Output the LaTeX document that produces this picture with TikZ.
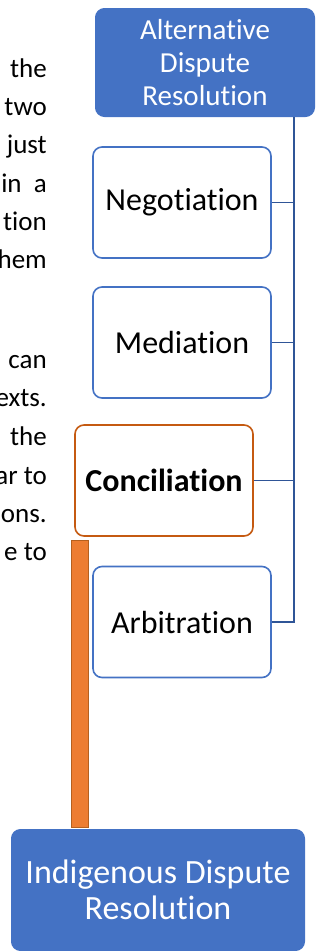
\documentclass[tikz,border=0pt]{standalone}
\usepackage{fontspec}
\setmainfont{Carlito}[RawFeature={-liga;-clig;-calt;-dlig;-rlig}]
\usepackage{tikz}
\usetikzlibrary{calc}
\usepackage{xcolor}
\definecolor{adrblue}{HTML}{4472C4}
\definecolor{linkblue}{HTML}{2F5597}
\definecolor{concorange}{HTML}{C55A11}
\definecolor{barorange}{HTML}{ED7D31}
\definecolor{barborder}{HTML}{B5601E}

\begin{document}
\begin{tikzpicture}[x=1pt,y=-1pt]
  \tikzset{rootbox/.style={rectangle,rounded corners=9pt,fill=adrblue,draw=adrblue,line width=1pt,text=white,align=center,inner sep=0pt}}
  \tikzset{childbox/.style={rectangle,rounded corners=9pt,draw=adrblue,line width=1.6pt,fill=white,minimum width=178pt,minimum height=111pt,font=\fontsize{32}{38}\selectfont,inner sep=0pt}}
  \tikzset{branch/.style={draw=linkblue,line width=1.8pt}}
  \tikzset{bodytext/.style={anchor=base east,inner sep=0pt,font=\fontsize{27}{32}\selectfont}}
  \useasboundingbox (0,0) rectangle (322,951);
  % cut-off paragraph on the left
  \node[bodytext] (ta) at (47,77) {the};
  \node[bodytext] (tb) at (47,115) {two};
  \node[bodytext] (tc) at (47,153) {just};
  \node[bodytext] (td) at (47,192) {in\ \ a};
  \node[bodytext] (te) at (47,230) {tion};
  \node[bodytext] (tf) at (47,268) {hem};
  \node[bodytext] (tg) at (47,368) {can};
  \node[bodytext] (th) at (47,406) {exts.};
  \node[bodytext] (ti) at (47,445) {the};
  \node[bodytext] (tj) at (47,484) {ar to};
  \node[bodytext] (tk) at (47,522) {ons.};
  \node[bodytext] (tl) at (47,560) {e to};
  % boxes
  \node[rootbox,minimum width=219pt,minimum height=108pt,font=\fontsize{29}{33}\selectfont] (adr) at (205,62.5) {Alternative\\Dispute\\Resolution};
  \node[childbox] (neg) at (182,202.5) {Negotiation};
  \node[childbox] (med) at (182,342.5) {Mediation};
  \node[childbox,draw=concorange] (con) at (164,480.5) {\bfseries Conciliation};
  \node[childbox] (arb) at (182,622) {Arbitration};
  \node[rootbox,minimum width=293pt,minimum height=121pt,font=\fontsize{34}{36}\selectfont] (idr) at (158,890) {Indigenous Dispute\\Resolution};
  % tree lines
  \coordinate (trunk) at ([xshift=-21pt]adr.south east);
  \draw[branch] (trunk) |- (neg.east);
  \draw[branch] (trunk) |- (med.east);
  \draw[branch] (trunk) |- (con.east);
  \draw[branch] (trunk) |- (arb.east);
  % orange bar
  \filldraw[fill=barorange,draw=barborder,line width=1pt] ($(con.south west)+(-3,4)$) rectangle ($(con.south west |- idr.north)+(14,-2)$);
\end{tikzpicture}
\end{document}
